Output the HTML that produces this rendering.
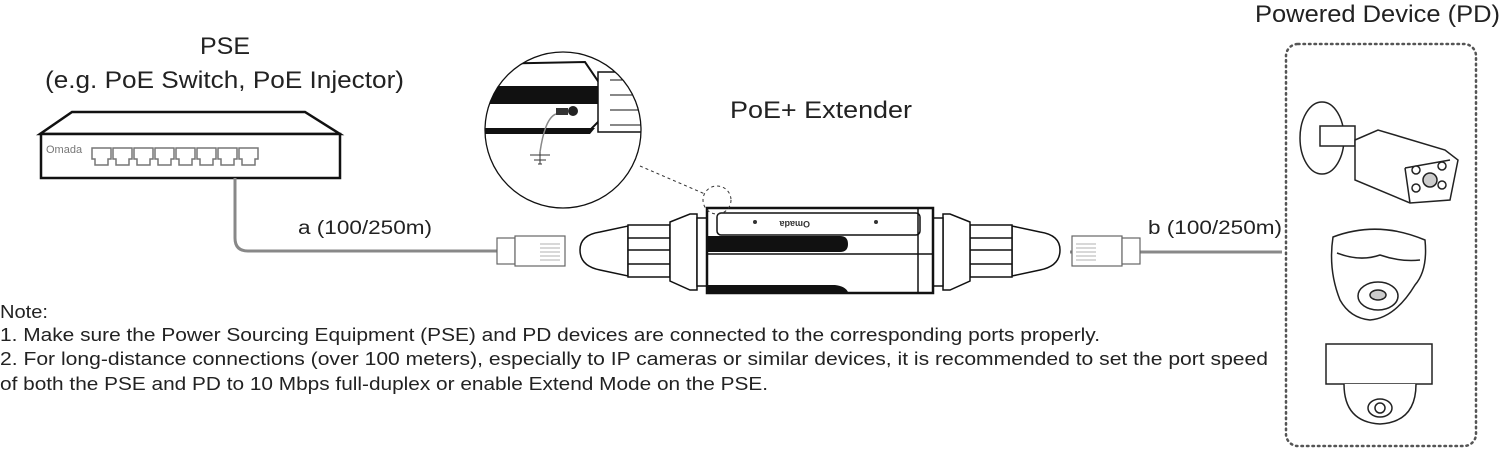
<!DOCTYPE html><html><head><style>body{margin:0;background:#fff}svg{display:block}text{font-family:"Liberation Sans",sans-serif;fill:#222}</style></head><body>
<svg width="1509" height="451" viewBox="0 0 1509 451" xmlns="http://www.w3.org/2000/svg">
<g font-size="24" lengthAdjust="spacingAndGlyphs"><text x="200" y="54" textLength="50" lengthAdjust="spacingAndGlyphs">PSE</text>
<text x="45" y="88" textLength="359" lengthAdjust="spacingAndGlyphs">(e.g. PoE Switch, PoE Injector)</text>
<text x="730" y="118" textLength="182" lengthAdjust="spacingAndGlyphs">PoE+ Extender</text>
<text x="1255" y="22" textLength="245" lengthAdjust="spacingAndGlyphs">Powered Device (PD)</text></g>
<g font-size="19"><text x="298" y="234" textLength="134" lengthAdjust="spacingAndGlyphs">a (100/250m)</text><text x="1148" y="234" textLength="134" lengthAdjust="spacingAndGlyphs">b (100/250m)</text></g>
<g font-size="18.5"><text x="0" y="318" textLength="48" lengthAdjust="spacingAndGlyphs">Note:</text>
<text x="0" y="341" textLength="1100" lengthAdjust="spacingAndGlyphs">1. Make sure the Power Sourcing Equipment (PSE) and PD devices are connected to the corresponding ports properly.</text>
<text x="0" y="365" textLength="1268" lengthAdjust="spacingAndGlyphs">2. For long-distance connections (over 100 meters), especially to IP cameras or similar devices, it is recommended to set the port speed</text>
<text x="0" y="390" textLength="768" lengthAdjust="spacingAndGlyphs">of both the PSE and PD to 10 Mbps full-duplex or enable Extend Mode on the PSE.</text></g>
<!-- switch -->
<g stroke="#111" fill="#fff" stroke-width="2.5"><path d="M72 112 L305 112 L340 134 L40 134 Z"/><rect x="41" y="134" width="299" height="44"/></g>
<text x="46" y="153" font-size="11" style="fill:#777">Omada</text>
<g stroke="#777" fill="none" stroke-width="1.5">
<path d="M92 148h19v11h-3v6h-13v-6h-3z"/><path d="M113 148h19v11h-3v6h-13v-6h-3z"/><path d="M134 148h19v11h-3v6h-13v-6h-3z"/><path d="M155 148h19v11h-3v6h-13v-6h-3z"/><path d="M176 148h19v11h-3v6h-13v-6h-3z"/><path d="M197 148h19v11h-3v6h-13v-6h-3z"/><path d="M218 148h19v11h-3v6h-13v-6h-3z"/><path d="M239 148h19v11h-3v6h-13v-6h-3z"/></g>
<path d="M235 178 V238 Q235 251 248 251 H500" stroke="#888" stroke-width="3" fill="none"/>
<path d="M1070 252 H1282" stroke="#888" stroke-width="3" fill="none"/>
<!-- connectors -->
<g stroke="#666" fill="#fff" stroke-width="1.2"><rect x="497" y="238" width="18" height="26"/><rect x="515" y="236" width="50" height="30"/><rect x="1072" y="236" width="50" height="30"/><rect x="1122" y="238" width="18" height="26"/></g>
<g stroke="#999" stroke-width="0.8"><path d="M540 244h20M540 248h20M540 252h20M540 256h20M540 260h20M1076 244h20M1076 248h20M1076 252h20M1076 256h20M1076 260h20"/></g>
<!-- extender -->
<g stroke="#111" fill="#fff" stroke-width="1.5">
<path d="M600 232 Q580 235 580 250 Q580 266 600 270 L628 276 L628 226 Z"/>
<rect x="628" y="225" width="42" height="52"/><path d="M670 222 L690 214 L697 214 L697 290 L690 290 L670 281 Z"/><rect x="697" y="218" width="10" height="68"/>
<path d="M1040 232 Q1060 235 1060 250 Q1060 266 1040 270 L1012 276 L1012 226 Z"/>
<rect x="970" y="225" width="42" height="52"/><path d="M970 222 L950 214 L943 214 L943 290 L950 290 L970 281 Z"/><rect x="933" y="218" width="10" height="68"/>
<rect x="707" y="208" width="226" height="85" stroke-width="2.5"/>
<rect x="717" y="213" width="203" height="22" rx="4"/>
<path d="M707 254 H933 M918 208 V293"/>
<path d="M628 238h42M628 250h42M628 264h42M970 238h42M970 250h42M970 264h42"/></g>
<path d="M708 236 H840 Q848 236 848 244 Q848 252 840 252 H708 Z" fill="#111"/>
<path d="M708 285 H835 Q845 286 848 292 H708 Z" fill="#111"/>
<text x="760" y="227" font-size="9" font-weight="bold" transform="rotate(180 785 224)" style="fill:#333">Omada</text>
<circle cx="755" cy="222" r="2" fill="#333"/><circle cx="876" cy="222" r="2" fill="#333"/>
<circle cx="717" cy="200" r="14" fill="none" stroke="#333" stroke-dasharray="3 3"/>
<path d="M640 166 L705 194" stroke="#333" stroke-dasharray="3 3"/>
<!-- magnifier -->
<clipPath id="c"><circle cx="563" cy="130" r="78"/></clipPath>
<g clip-path="url(#c)"><path d="M480 64 L585 62 L600 84 V120 L590 130 L480 130 Z" fill="#fff" stroke="#111" stroke-width="2"/>
<rect x="480" y="86" width="128" height="18" rx="9" fill="#111"/>
<path d="M480 128 L595 128 L590 134 L480 134 Z" fill="#111"/>
<rect x="598" y="72" width="50" height="60" fill="#fff" stroke="#111" stroke-width="1.5"/>
<path d="M610 80h40M610 95h40M610 110h40M610 125h40" stroke="#111"/>
<rect x="556" y="108" width="12" height="7" fill="#333"/><circle cx="573" cy="111" r="5" fill="#222"/>
<path d="M556 114 Q545 118 540 152" stroke="#888" stroke-width="1.5" fill="none"/>
<path d="M530 155h20M534 160h12M538 164h4M540 152v12" stroke="#333"/></g>
<circle cx="563" cy="130" r="78" fill="none" stroke="#111" stroke-width="1.3"/>
<!-- PD box -->
<rect x="1286" y="44" width="190" height="402" rx="12" fill="none" stroke="#555" stroke-width="2.5" stroke-dasharray="1.5 4" stroke-linecap="round"/>
<g stroke="#222" fill="#fff" stroke-width="1.5">
<ellipse cx="1322" cy="138" rx="22" ry="36"/><rect x="1320" y="126" width="35" height="20"/>
<path d="M1355 140 L1378 130 L1445 150 L1458 160 L1450 200 L1410 203 L1355 180 Z"/>
<path d="M1405 168 L1450 160 M1405 168 L1410 203"/>
<circle cx="1430" cy="180" r="7" fill="#ccc"/><circle cx="1416" cy="170" r="4"/><circle cx="1442" cy="166" r="4"/><circle cx="1416" cy="188" r="4"/><circle cx="1442" cy="185" r="4"/>
<path d="M1333 237 Q1378 220 1425 240 Q1428 270 1415 285 Q1395 318 1370 320 Q1350 318 1340 300 Q1328 270 1333 237 Z"/>
<path d="M1337 253 Q1360 262 1380 255 Q1400 262 1420 260"/>
<ellipse cx="1378" cy="296" rx="20" ry="14"/><ellipse cx="1378" cy="295" rx="8" ry="5" fill="#ccc"/>
<rect x="1326" y="344" width="106" height="40"/>
<path d="M1344 384 Q1344 422 1380 424 Q1416 422 1416 384"/>
<ellipse cx="1380" cy="408" rx="12" ry="9"/><circle cx="1380" cy="408" r="5"/></g>
</svg></body></html>
